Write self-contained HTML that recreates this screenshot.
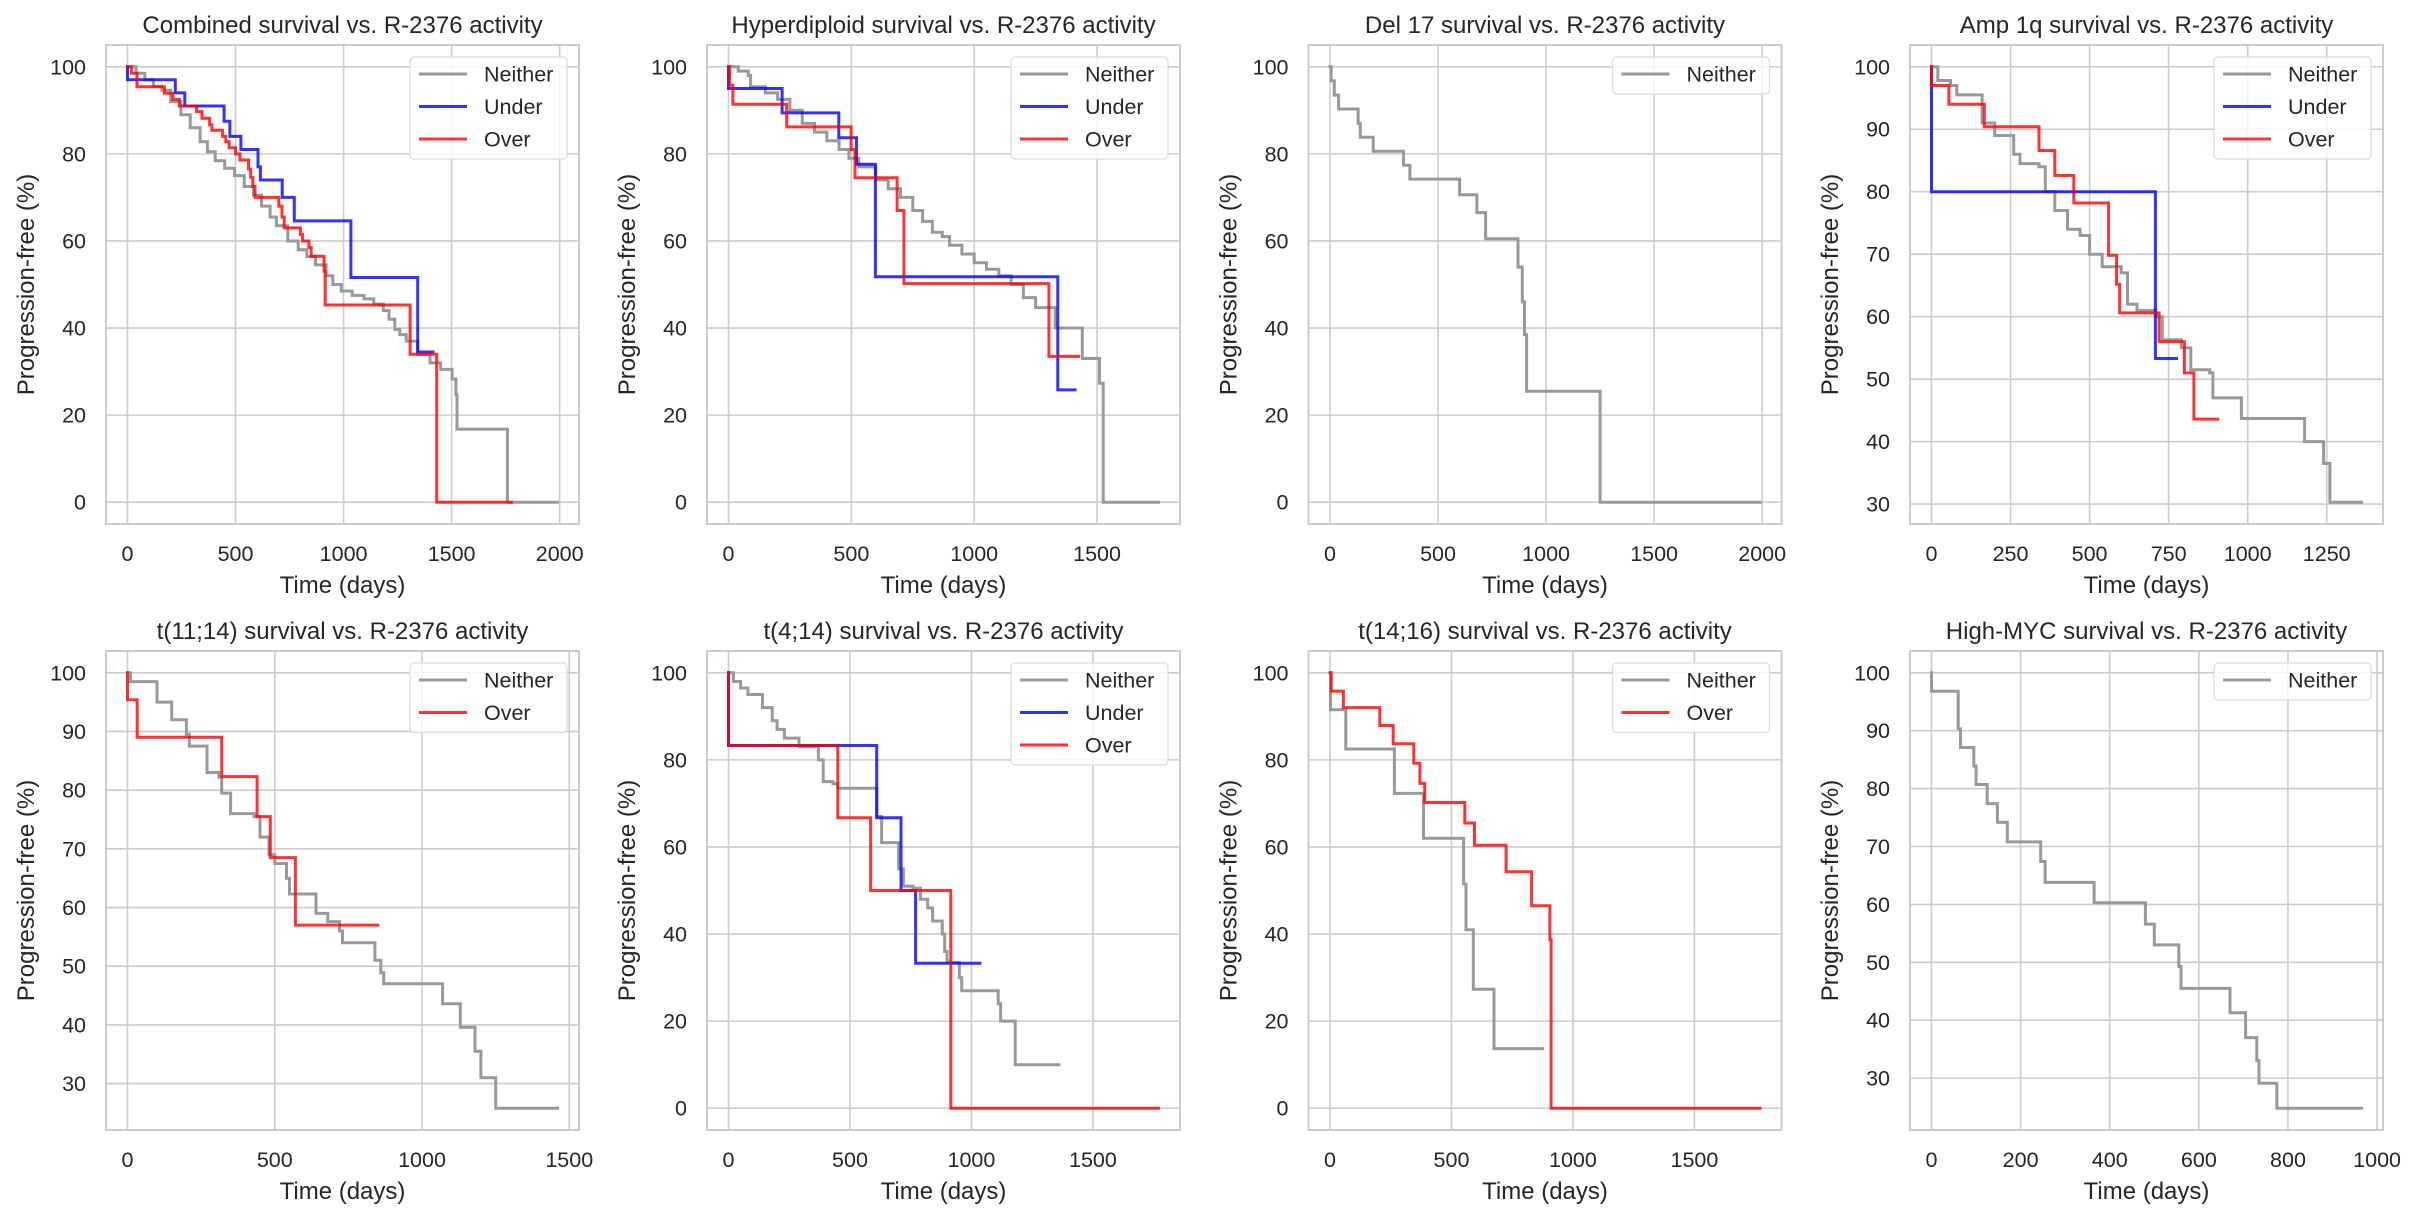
<!DOCTYPE html>
<html><head><meta charset="utf-8">
<style>
html,body{margin:0;padding:0;background:#fff;}
svg{display:block;font-family:"Liberation Sans",Arial,sans-serif;}
</style></head>
<body>
<svg id="s" width="2418" height="1218" xmlns="http://www.w3.org/2000/svg"></svg>
<script>
const NS="http://www.w3.org/2000/svg";
const svg=document.getElementById('s');
function el(tag,attrs,parent,text){const e=document.createElementNS(NS,tag);for(const k in attrs)e.setAttribute(k,attrs[k]);if(text!==undefined)e.textContent=text;(parent||svg).appendChild(e);return e;}
const W=473,H=479;
const lefts=[106,707,1308.5,1910], tops=[45,651];
const GRAY='#999999', BLUE='rgba(0,0,255,0.8)', RED='rgba(255,0,0,0.8)';
const panels=[
{title:"Combined survival vs. R-2376 activity",xmax:1990,ymin:0,xt:[0,500,1000,1500,2000],yt:[0,20,40,60,80,100],
 s:[{n:'Neither',c:GRAY,end:1990,d:[[40,98.5],[80,97],[120,95.5],[159,94.6],[200,92],[247,89],[290,86],[336,82.8],[370,80.5],[406,78.4],[450,76.7],[495,75],[540,72.5],[583,70.5],[620,68],[660,65.5],[689,63.5],[742,60],[790,58],[830,56.4],[870,54.5],[919,52],[950,50],[989,48.5],[1040,47.5],[1095,46.7],[1140,45.5],[1184,44],[1210,42],[1237,39.7],[1260,38.5],[1290,37],[1343,34],[1400,32],[1449,30.5],[1502,28.3],[1520,24.7],[1525,16.8],[1758,0]]},
  {n:'Under',c:BLUE,end:1414,d:[[0,97],[221,94],[265,91],[447,87.5],[474,84],[525,81],[604,77],[615,74],[716,70],[772,64.6],[1034,51.6],[1343,34.5]]},
  {n:'Over',c:RED,end:1776,d:[[18,98.5],[44,95.4],[171,93.9],[210,92.5],[240,91],[320,89.7],[345,88.2],[380,86.7],[390,85.4],[440,84],[455,82.8],[470,81.4],[500,80],[520,78.6],[560,76.5],[570,74.6],[580,72.5],[590,70],[700,68],[715,65.5],[725,63],[800,61.5],[810,60],[840,58.5],[850,56.5],[910,53],[915,45.3],[1308,34],[1431,0]]}]},
{title:"Hyperdiploid survival vs. R-2376 activity",xmax:1750,ymin:0,xt:[0,500,1000,1500],yt:[0,20,40,60,80,100],
 s:[{n:'Neither',c:GRAY,end:1750,d:[[40,99],[80,98],[90,95.4],[150,94],[200,92.5],[250,90],[300,87],[350,85],[400,83],[450,81],[490,79],[530,77],[600,74],[650,72],[700,70],[750,67],[790,64.5],[830,62],[870,61],[900,59],[950,57],[1000,55],[1050,53.5],[1100,52],[1150,50],[1200,47],[1250,44.7],[1330,40],[1440,33],[1510,27.3],[1525,0]]},
  {n:'Under',c:BLUE,end:1410,d:[[0,95],[218,89.4],[449,83.7],[521,77.6],[598,51.8],[1340,25.8]]},
  {n:'Over',c:RED,end:1425,d:[[5,95.8],[18,91.4],[237,86.2],[499,81],[515,74.5],[686,67],[714,50.2],[1304,33.5]]}]},
{title:"Del 17 survival vs. R-2376 activity",xmax:1990,ymin:0,xt:[0,500,1000,1500,2000],yt:[0,20,40,60,80,100],
 s:[{n:'Neither',c:GRAY,end:1990,d:[[5,96.8],[20,93.5],[40,90.3],[130,87],[140,83.8],[200,80.6],[340,77.4],[370,74.2],[600,70.6],[680,66.5],[720,60.5],[870,54],[890,46],[900,38.5],[910,25.5],[1250,0]]}]},
{title:"Amp 1q survival vs. R-2376 activity",xmax:1360,ymin:30.3,xt:[0,250,500,750,1000,1250],yt:[30,40,50,60,70,80,90,100],
 s:[{n:'Neither',c:GRAY,end:1360,d:[[20,97.8],[60,97],[80,95.5],[140,95.5],[160,91],[200,89],[260,86],[280,84.5],[340,84],[360,80],[390,77],[430,74],[470,73],[500,70],[540,68],[600,67],[620,62],[650,61],[710,60],[730,56.3],[790,55],[820,51.5],[880,51],[890,47],[980,43.7],[1180,40],[1240,36.5],[1260,30.3]]},
  {n:'Under',c:BLUE,end:775,d:[[0,80],[708,53.3]]},
  {n:'Over',c:RED,end:905,d:[[0,97],[55,94],[167,90.4],[340,86.6],[390,82.6],[450,78.2],[560,69.8],[585,65.2],[595,60.6],[720,56],[800,51],[830,43.6]]}]},
{title:"t(11;14) survival vs. R-2376 activity",xmax:1460,ymin:25.8,xt:[0,500,1000,1500],yt:[30,40,50,60,70,80,90,100],
 s:[{n:'Neither',c:GRAY,end:1460,d:[[10,98.5],[50,98.5],[100,95],[150,92],[200,89.5],[210,87.5],[250,87.5],[270,83],[310,82.2],[320,79.5],[350,76],[430,75.5],[450,72],[480,69],[500,67.5],[540,65],[550,62.3],[630,62.3],[640,59],[680,57.6],[720,56],[730,54],[830,54],[840,51],[860,48.9],[870,47],[1070,43.6],[1130,39.6],[1180,35.5],[1200,31],[1250,25.8]]},
  {n:'Over',c:RED,end:850,d:[[0,95.4],[33,89],[320,82.3],[440,75.5],[485,68.5],[570,57]]}]},
{title:"t(4;14) survival vs. R-2376 activity",xmax:1770,ymin:0,xt:[0,500,1000,1500],yt:[0,20,40,60,80,100],
 s:[{n:'Neither',c:GRAY,end:1360,d:[[20,98],[50,96.5],[80,95],[120,95],[140,92],[180,89],[200,87],[230,85],[280,85],[290,83],[350,83],[370,80],[390,75],[430,74.5],[450,73.5],[600,73.5],[610,67],[630,61],[690,61],[700,55],[720,51],[760,50.5],[790,48],[820,46],[840,43],[880,40],[890,36],[900,33.5],[950,30],[960,27],[1100,27],[1110,24],[1120,20],[1180,10]]},
  {n:'Under',c:BLUE,end:1035,d:[[0,83.3],[610,66.7],[710,50],[770,33.3]]},
  {n:'Over',c:RED,end:1770,d:[[0,83.3],[450,66.7],[585,50],[915,0]]}]},
{title:"t(14;16) survival vs. R-2376 activity",xmax:1770,ymin:0,xt:[0,500,1000,1500],yt:[0,20,40,60,80,100],
 s:[{n:'Neither',c:GRAY,end:875,d:[[2,91.5],[65,82.5],[265,72.3],[385,62],[550,51.5],[560,41],[590,27.3],[675,13.7]]},
  {n:'Over',c:RED,end:1770,d:[[5,95.8],[55,92],[205,87.9],[260,83.7],[345,79.2],[370,74.6],[390,70.2],[555,65.5],[595,60.4],[725,54.3],[830,46.5],[905,38.7],[910,0]]}]},
{title:"High-MYC survival vs. R-2376 activity",xmax:965,ymin:24.8,xt:[0,200,400,600,800,1000],yt:[30,40,50,60,70,80,90,100],
 s:[{n:'Neither',c:GRAY,end:965,d:[[0,96.8],[60,90.3],[65,87.1],[95,83.9],[100,80.7],[125,77.4],[148,74.2],[170,70.8],[245,67.4],[255,63.8],[365,60.3],[480,56.6],[500,53],[555,49.3],[560,45.5],[670,41.3],[705,37],[730,33],[735,29.1],[775,24.8]]}]}
];
const TXT='#262626';
panels.forEach((p,i)=>{
  const L=lefts[i%4], T=tops[Math.floor(i/4)];
  const x0=-0.05*p.xmax, x1=1.05*p.xmax;
  const r=100-p.ymin, y0=p.ymin-0.05*r, y1=100+0.05*r;
  const X=v=>L+(v-x0)/(x1-x0)*W, Y=v=>T+H-(v-y0)/(y1-y0)*H;
  // grid
  p.xt.forEach(t=>{const x=X(t);if(x>L&&x<L+W)el('line',{x1:x,x2:x,y1:T,y2:T+H,stroke:'#cccccc','stroke-width':1.6});
    el('text',{x:x,y:T+H+37,'text-anchor':'middle','font-size':21.5,fill:TXT},null,String(t));});
  p.yt.forEach(t=>{const y=Y(t);el('line',{x1:L,x2:L+W,y1:y,y2:y,stroke:'#cccccc','stroke-width':1.6});
    el('text',{x:L-20,y:y+7.5,'text-anchor':'end','font-size':21.5,fill:TXT},null,String(t));});
  // clip
  const cid='c'+i;const cp=el('clipPath',{id:cid});el('rect',{x:L,y:T,width:W,height:H},cp);
  const g=el('g',{'clip-path':'url(#'+cid+')'});
  p.s.forEach(s=>{let d='M'+X(0).toFixed(1)+' '+Y(100).toFixed(1);
    s.d.forEach(([t,v])=>{d+=' H'+X(t).toFixed(1)+' V'+Y(v).toFixed(1);});
    d+=' H'+X(s.end).toFixed(1);
    el('path',{d:d,fill:'none',stroke:s.c,'stroke-width':3,'stroke-linejoin':'miter','stroke-linecap':'square'},g);});
  // frame
  el('rect',{x:L,y:T,width:W,height:H,fill:'none',stroke:'#cccccc','stroke-width':2});
  // legend
  const n=p.s.length, bx=L+W-12-157, by=T+12, bh=37+32.5*(n-1);
  el('rect',{x:bx,y:by,width:157,height:bh,rx:4,ry:4,fill:'rgba(255,255,255,0.8)',stroke:'#dddddd','stroke-width':1.3});
  p.s.forEach((s,k)=>{const yy=by+17+32.5*k;
    el('line',{x1:bx+9,x2:bx+57,y1:yy,y2:yy,stroke:s.c,'stroke-width':3});
    el('text',{x:bx+74,y:yy+7.5,'font-size':21.5,fill:TXT},null,s.n);});
  // labels
  el('text',{x:L+W/2,y:T-12,'text-anchor':'middle','font-size':24,fill:TXT},null,p.title);
  el('text',{x:L+W/2,y:T+H+69,'text-anchor':'middle','font-size':24,fill:TXT},null,'Time (days)');
  const yx=L-72, yc=T+H/2;
  el('text',{x:yx,y:yc,'text-anchor':'middle','font-size':24,fill:TXT,transform:'rotate(-90 '+yx+' '+yc+')'},null,'Progression-free (%)');
});
</script>
</body></html>
